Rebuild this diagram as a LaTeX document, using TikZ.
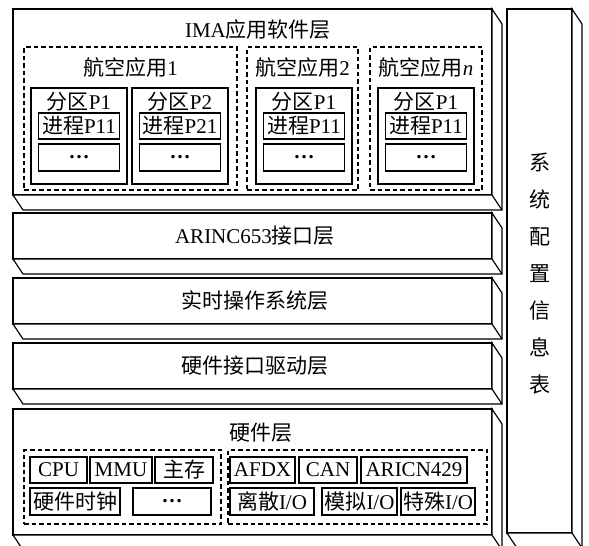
\documentclass[tikz,border=0pt]{standalone}
\usepackage{fontspec}
\setmainfont{Liberation Serif}
\newfontfamily\cjk{Noto Sans CJK SC}
\newcommand{\zh}[1]{{\cjk #1}}
\usetikzlibrary{calc}
\tikzset{
  edge/.style={line width=1.2pt, line join=miter},
  layer/.style={edge, draw, fill=white, inner sep=0pt, outer sep=0pt, minimum width=479pt},
  app/.style={draw, line width=1.1pt, dash pattern=on 4.5pt off 3pt, inner sep=0pt, outer sep=0pt},
  part/.style={draw, line width=1.1pt, inner sep=0pt, outer sep=0pt},
  item/.style={draw, line width=1.1pt, inner sep=0pt, outer sep=0pt, minimum height=26pt},
  lbl/.style={inner sep=0pt},
  every node/.append style={font=\fontsize{21}{25}\selectfont}
}
\newcommand{\mkslab}[1]{%
  \filldraw[edge, fill=white] (#1.north east) -- ++(10,15) -- ($(#1.south east)+(10,15)$) -- ($(#1.south west)+(10,15)$) -- (#1.south west) -- (#1.south east) -- cycle;
  \draw[edge] (#1.south east) -- ++(10,15);}
\begin{document}
\begin{tikzpicture}[x=1pt,y=-1pt]
\useasboundingbox (0,0) rectangle (589,546);
\fill[white] (0,0) rectangle (589,546);
\clip (0,0) rectangle (589,546);

% layers
\node[layer, minimum height=186pt] (ima) at (252.5,102) {};
\mkslab{ima}
\node[layer, minimum height=46pt] (arinc) at (252.5,236) {};
\mkslab{arinc}
\node[layer, minimum height=46pt] (rtos) at (252.5,301) {};
\mkslab{rtos}
\node[layer, minimum height=46pt] (drv) at (252.5,366) {};
\mkslab{drv}
\node[layer, minimum height=126pt] (hw) at (252.5,472) {};
\mkslab{hw}
\node[layer, minimum width=65pt, minimum height=524pt] (cfg) at (539.5,271) {};
\mkslab{cfg}

% layer labels
\node[lbl] (imat) at (258,30) {IMA\zh{应用软件层}};
\node[lbl] (arinct) at (255,236) {ARINC653\zh{接口层}};
\node[lbl] (rtost) at (255,301) {\zh{实时操作系统层}};
\node[lbl] (drvt) at (255,366) {\zh{硬件接口驱动层}};
\node[lbl] (hwt) at (261,433) {\zh{硬件层}};
\node[lbl, align=center, font=\cjk\fontsize{21}{37}\selectfont] (cfgt) at (539.5,274) {系\\统\\配\\置\\信\\息\\表};

% application 1
\node[app, minimum width=213pt, minimum height=143pt] (app1) at (130.5,118.5) {};
\node[lbl] (app1t) at (130.5,67) {\zh{航空应用}1};
\node[part, minimum width=96pt, minimum height=96pt] (p11) at (79,136) {};
\node[lbl] (p11t) at (79,102) {\zh{分区}P1};
\node[item, minimum width=81pt] (p11a) at (79,126) {\zh{进程}P11};
\node[item, minimum width=81pt, minimum height=27pt] (p11b) at (79,157.5) {\textbf{…}};
\node[part, minimum width=96pt, minimum height=96pt] (p12) at (180,136) {};
\node[lbl] (p12t) at (180,102) {\zh{分区}P2};
\node[item, minimum width=81pt] (p12a) at (180,126) {\zh{进程}P21};
\node[item, minimum width=81pt, minimum height=27pt] (p12b) at (180,157.5) {\textbf{…}};

% application 2
\node[app, minimum width=111pt, minimum height=143pt] (app2) at (302.5,118.5) {};
\node[lbl] (app2t) at (302.5,67) {\zh{航空应用}2};
\node[part, minimum width=96pt, minimum height=96pt] (p21) at (304,136) {};
\node[lbl] (p21t) at (304,102) {\zh{分区}P1};
\node[item, minimum width=81pt] (p21a) at (304,126) {\zh{进程}P11};
\node[item, minimum width=81pt, minimum height=27pt] (p21b) at (304,157.5) {\textbf{…}};

% application n
\node[app, minimum width=112pt, minimum height=143pt] (appn) at (426,118.5) {};
\node[lbl] (appnt) at (426,67) {\zh{航空应用}\textit{n}};
\node[part, minimum width=96pt, minimum height=96pt] (pn1) at (426,136) {};
\node[lbl] (pn1t) at (426,102) {\zh{分区}P1};
\node[item, minimum width=81pt] (pn1a) at (426,126) {\zh{进程}P11};
\node[item, minimum width=81pt, minimum height=27pt] (pn1b) at (426,157.5) {\textbf{…}};

% hardware
\node[app, minimum width=197pt, minimum height=74pt] (hwl) at (122.5,487) {};
\node[app, minimum width=259pt, minimum height=74pt] (hwr) at (357.5,487) {};
\node[item, minimum width=57pt] (cpu) at (58.5,470) {CPU};
\node[item, minimum width=62pt] (mmu) at (121,470) {MMU};
\node[item, minimum width=58pt] (mem) at (184,470) {\zh{主存}};
\node[item, minimum width=90pt, minimum height=27pt] (clk) at (75,501.5) {\zh{硬件时钟}};
\node[item, minimum width=78pt, minimum height=27pt] (hdots) at (172,501.5) {\textbf{…}};
\node[item, minimum width=65pt] (afdx) at (262.5,470) {AFDX};
\node[item, minimum width=58pt] (can) at (328,470) {CAN};
\node[item, minimum width=106pt] (a429) at (414,470) {ARICN429};
\node[item, minimum width=84pt, minimum height=27pt] (dio) at (272,501.5) {\zh{离散}I/O};
\node[item, minimum width=75pt, minimum height=27pt] (aio) at (359.5,501.5) {\zh{模拟}I/O};
\node[item, minimum width=74pt, minimum height=27pt] (sio) at (438,501.5) {\zh{特殊}I/O};
\end{tikzpicture}
\end{document}
